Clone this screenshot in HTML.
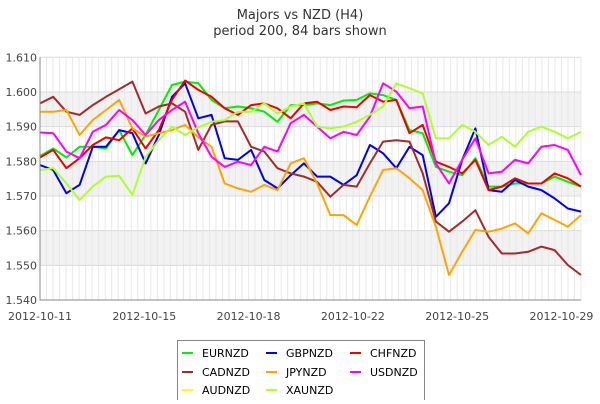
<!DOCTYPE html>
<html><head><meta charset="utf-8"><style>
body{margin:0;background:#fff;font-family:"DejaVu Sans","Liberation Sans",sans-serif}
svg text{font-family:"DejaVu Sans","Liberation Sans",sans-serif}
</style></head><body>
<svg id="c" width="600" height="400" xmlns="http://www.w3.org/2000/svg">
<text x="300" y="19" text-anchor="middle" font-size="13" fill="#333">Majors vs NZD (H4)</text>
<text x="300" y="35" text-anchor="middle" font-size="13" fill="#333">period 200, 84 bars shown</text>
<g id="grid"></g><g id="lines"></g><g id="axes"></g><g id="legend"></g>
</svg>
<script>
const yTicks=[1.610,1.600,1.590,1.580,1.570,1.560,1.550,1.540];
const xLabels=["2012-10-11","2012-10-15","2012-10-18","2012-10-22","2012-10-25","2012-10-29"];
const xLabelBars=[0,16,32,48,64,80];
const seriesNames=["EURNZD","GBPNZD","CHFNZD","CADNZD","JPYNZD","USDNZD","AUDNZD","XAUNZD"];
const seriesColors=["#00ee00","#0000ee","#ee0000","#a52a2a","#ffa500","#ff00ff","#ffff00","#adff2f"];
const EURNZD=[1.5815,1.5837,1.5811,1.5842,1.5842,1.5837,1.5890,1.5818,1.5876,1.5948,1.6020,1.6030,1.6025,1.5977,1.5953,1.5958,1.5953,1.5943,1.5914,1.5962,1.5962,1.5967,1.5962,1.5975,1.5977,1.5996,1.5991,1.5977,1.5890,1.5881,1.5784,1.5770,1.5760,1.5809,1.5727,1.5727,1.5736,1.5736,1.5736,1.5756,1.5741,1.5727];
const GBPNZD=[1.5789,1.5775,1.5708,1.5732,1.5842,1.5842,1.5890,1.5881,1.5794,1.5876,1.5986,1.6025,1.5924,1.5934,1.5809,1.5804,1.5833,1.5746,1.5722,1.5760,1.5794,1.5756,1.5756,1.5732,1.5760,1.5847,1.5823,1.5780,1.5842,1.5818,1.5640,1.5679,1.5804,1.5895,1.5717,1.5712,1.5746,1.5727,1.5717,1.5693,1.5664,1.5655];
const CHFNZD=[1.5811,1.5833,1.5780,1.5809,1.5847,1.5869,1.5861,1.5895,1.5837,1.5890,1.5977,1.6033,1.6006,1.5986,1.5953,1.5934,1.5962,1.5967,1.5953,1.5924,1.5967,1.5972,1.5948,1.5958,1.5956,1.5991,1.5972,1.5977,1.5881,1.5905,1.5799,1.5784,1.5765,1.5804,1.5717,1.5727,1.5751,1.5736,1.5736,1.5765,1.5751,1.5727];
const CADNZD=[1.5967,1.5986,1.5943,1.5934,1.5962,1.5986,1.6008,1.6030,1.5938,1.5958,1.5967,1.5943,1.5833,1.5905,1.5915,1.5915,1.5842,1.5828,1.5780,1.5765,1.5756,1.5741,1.5698,1.5732,1.5727,1.5794,1.5857,1.5861,1.5857,1.5765,1.5626,1.5597,1.5626,1.5659,1.5582,1.5534,1.5534,1.5539,1.5554,1.5544,1.5501,1.5472];
const JPYNZD=[1.5943,1.5943,1.5948,1.5876,1.5919,1.5948,1.5977,1.5895,1.5871,1.5881,1.5890,1.5905,1.5869,1.5842,1.5736,1.5722,1.5712,1.5732,1.5717,1.5794,1.5809,1.5736,1.5645,1.5645,1.5616,1.5698,1.5775,1.5780,1.5751,1.5717,1.5611,1.5472,1.5539,1.5602,1.5597,1.5606,1.5621,1.5592,1.5650,1.5631,1.5611,1.5645];
const USDNZD=[1.5883,1.5881,1.5828,1.5809,1.5885,1.5905,1.5948,1.5919,1.5876,1.5919,1.5948,1.5972,1.5881,1.5813,1.5784,1.5799,1.5789,1.5842,1.5828,1.5910,1.5934,1.5900,1.5866,1.5885,1.5876,1.5929,1.6025,1.6001,1.5953,1.5958,1.5794,1.5736,1.5804,1.5866,1.5765,1.5770,1.5804,1.5794,1.5842,1.5847,1.5833,1.5760];
const AUDNZD=[];
const XAUNZD=[1.5775,1.5780,1.5736,1.5688,1.5727,1.5756,1.5758,1.5703,1.5813,1.5861,1.5900,1.5876,1.5898,1.5914,1.5919,1.5943,1.5943,1.5967,1.5938,1.5958,1.5967,1.5900,1.5895,1.5900,1.5914,1.5934,1.5958,1.6025,1.6011,1.5996,1.5866,1.5866,1.5905,1.5885,1.5847,1.5871,1.5842,1.5885,1.5900,1.5885,1.5866,1.5885];
const seriesData=[EURNZD,GBPNZD,CHFNZD,CADNZD,JPYNZD,USDNZD,AUDNZD,XAUNZD];
const X0=40,X1=581,Y0=57.3,Y1=300,NB=84,yMin=1.540,yMax=1.610;
const ys=v=>Y1-(v-yMin)/(yMax-yMin)*(Y1-Y0);
const xb=b=>X0+b*(X1-X0)/(NB-1);
const xi=(i,n)=>X0+i*(X1-X0)/(n-1);
const NS="http://www.w3.org/2000/svg";
function mk(t,a,p){const e=document.createElementNS(NS,t);for(const k in a)e.setAttribute(k,a[k]);p.appendChild(e);return e;}
const grid=document.getElementById('grid'),axes=document.getElementById('axes'),lines=document.getElementById('lines'),legend=document.getElementById('legend');
for(let i=0;i<yTicks.length-1;i++){if(i%2===1){const r=mk('rect',{x:X0,y:ys(yTicks[i]),width:X1-X0,height:ys(yTicks[i+1])-ys(yTicks[i]),fill:'#f2f2f2'},grid);

}}
for(let b=0;b<NB;b++){const l=mk('line',{x1:xb(b),x2:xb(b),y1:Y0,y2:Y1,stroke:'#e8e8e8','stroke-width':1},grid);

}
yTicks.forEach(v=>{const l=mk('line',{x1:X0,x2:X1,y1:ys(v),y2:ys(v),stroke:'#dcdcdc'},grid);


const t=mk('text',{x:37,y:ys(v)+4,'text-anchor':'end','font-size':11,fill:'#444'},axes);t.textContent=v.toFixed(3);

});
seriesData.forEach((d,s)=>{if(!d.length)return;const pts=d.map((v,i)=>xi(i,d.length).toFixed(1)+','+ys(v).toFixed(1)).join(' ');
const p=mk('polyline',{points:pts,fill:'none',stroke:seriesColors[s],'stroke-width':2,'stroke-linejoin':'round'},lines);

});
const ax=mk('path',{d:`M${X0} ${Y0}V${Y1}H${X1}`,fill:'none',stroke:'#888'},axes);


xLabels.forEach((s,i)=>{const t=mk('text',{x:xb(xLabelBars[i]),y:320,'text-anchor':'middle','font-size':11,fill:'#444'},axes);t.textContent=s;

});
const lb=mk('rect',{x:177.5,y:340.5,width:247,height:70,fill:'#fff',stroke:'#888'},legend);


seriesNames.forEach((n,i)=>{const cx=[182,266,350][i%3],cy=[353,372,390][Math.floor(i/3)];
const g=mk('g',{},legend);


mk('line',{x1:cx,x2:cx+11,y1:cy,y2:cy,stroke:seriesColors[i],'stroke-width':2},g);
const t=mk('text',{x:cx+20,y:cy+4,'font-size':11,fill:'#000'},g);t.textContent=n;});
</script>
</body></html>
